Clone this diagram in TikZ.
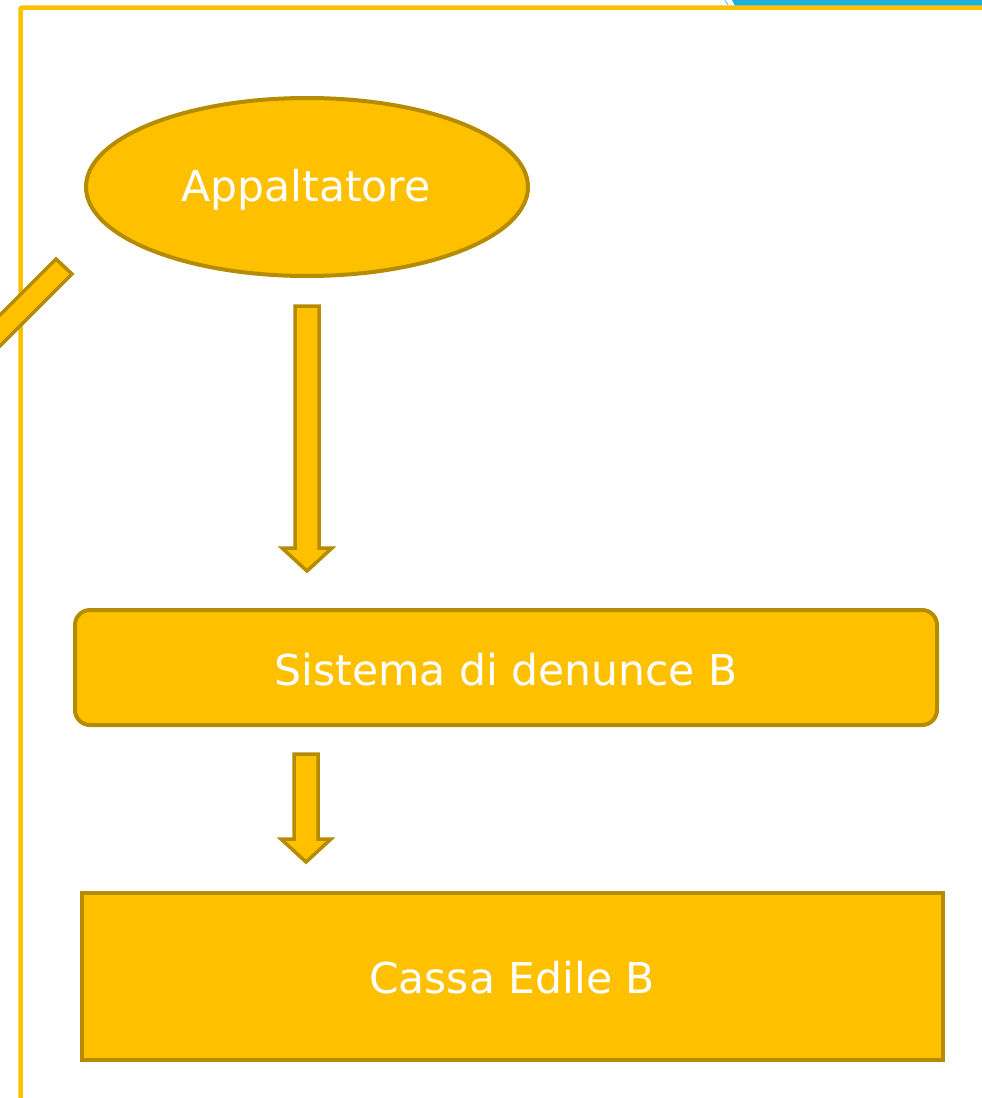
\documentclass[tikz,border=0pt]{standalone}
\usepackage{fontspec}
\setmainfont{DejaVu Sans}
\usetikzlibrary{shapes.geometric}
\definecolor{gold}{HTML}{FFC000}
\definecolor{golddark}{HTML}{B58B00}
\definecolor{barblue}{HTML}{1AB0E2}
\definecolor{lightblue}{HTML}{8FD6F0}
\tikzset{
  shapebox/.style={fill=gold,draw=golddark,line width=4pt},
  blockarrow/.style={fill=gold,draw=golddark,line width=3.5pt,line join=miter},
  lbl/.style={text=white,font=\fontsize{42.5}{50}\selectfont}
}
\begin{document}
\begin{tikzpicture}[x=1pt,y=-1pt]
\useasboundingbox (0,0) rectangle (982,1098);
\begin{scope}
\clip (0,0) rectangle (982,1098);
% top-right blue bar
\fill[barblue] (732,0) -- (982,0) -- (982,6) -- (735,6) -- cycle;
\draw[lightblue,line width=1.5pt] (725,0) -- (728,5);
% frame
\draw[gold,line width=4.5pt,rounded corners=2pt] (20.5,1100) -- (20.5,7.5) -- (984,7.5);
% diagonal stub
\draw[blockarrow] (56,259) -- (72,274) -- (-28,374) -- (-44,359) -- cycle;
\end{scope}
% nodes
\node[shapebox,ellipse,minimum width=442pt,minimum height=178pt,inner sep=0pt] (app) at (307,187) {};
\node[lbl] at (306,190) {Appaltatore};
\node[shapebox,rectangle,rounded corners=15pt,minimum width=862pt,minimum height=115pt,inner sep=0pt] (sis) at (506,667.5) {};
\node[lbl] at (506,670) {Sistema di denunce B};
\node[shapebox,rectangle,minimum width=861pt,minimum height=167pt,inner sep=0pt] (cas) at (512.5,976.5) {};
\node[lbl] at (512,978) {Cassa Edile B};
% block arrows
\coordinate (a1) at (307,306);
\coordinate (a2) at (306,754);
\draw[blockarrow] ([xshift=-12pt]a1) -- ([xshift=12pt]a1) -- (319,548) -- (332,548) -- (307,571) -- (282,548) -- (295,548) -- cycle;
\draw[blockarrow] ([xshift=-12pt]a2) -- ([xshift=12pt]a2) -- (318,839) -- (331,839) -- (306,862) -- (281,839) -- (294,839) -- cycle;
\end{tikzpicture}
\end{document}
